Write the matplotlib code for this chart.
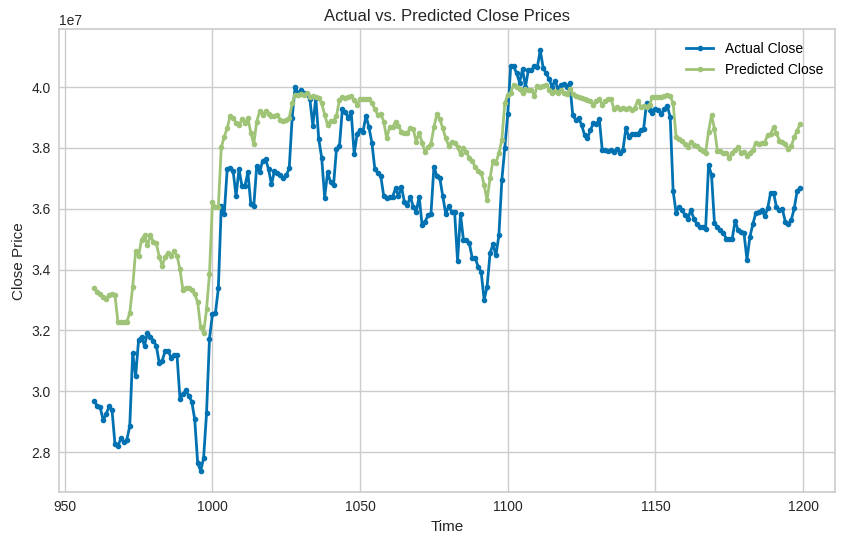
import numpy as np
import matplotlib
matplotlib.use("Agg")
import matplotlib.pyplot as plt

plt.rcParams['font.family'] = ['Liberation Sans', 'DejaVu Sans']

# time index of the test set
time = np.arange(960, 1200)

# actual close prices (in units of 1e7)
actual = [
    2.967, 2.952, 2.947, 2.905, 2.924, 2.950, 2.938, 2.826, 2.820, 2.845,
    2.832, 2.840, 2.885, 3.125, 3.050, 3.169, 3.179, 3.149, 3.193, 3.180,
    3.166, 3.150, 3.092, 3.100, 3.133, 3.133, 3.110, 3.120, 3.120, 2.976,
    2.990, 3.003, 2.985, 2.966, 2.908, 2.765, 2.738, 2.779, 2.927, 3.173,
    3.253, 3.256, 3.338, 3.610, 3.582, 3.730, 3.733, 3.725, 3.642, 3.730,
    3.675, 3.675, 3.720, 3.615, 3.608, 3.741, 3.720, 3.758, 3.763, 3.730,
    3.680, 3.725, 3.718, 3.710, 3.700, 3.710, 3.733, 3.900, 4.002, 3.980,
    3.990, 3.980, 3.976, 3.960, 3.873, 3.965, 3.829, 3.768, 3.637, 3.720,
    3.687, 3.677, 3.796, 3.805, 3.928, 3.917, 3.900, 3.917, 3.780, 3.846,
    3.860, 3.854, 3.906, 3.868, 3.817, 3.730, 3.719, 3.708, 3.642, 3.634,
    3.638, 3.640, 3.667, 3.642, 3.672, 3.623, 3.612, 3.640, 3.607, 3.590,
    3.640, 3.546, 3.557, 3.579, 3.583, 3.738, 3.708, 3.700, 3.642, 3.583,
    3.609, 3.590, 3.590, 3.429, 3.582, 3.497, 3.497, 3.486, 3.437, 3.437,
    3.409, 3.392, 3.301, 3.343, 3.453, 3.484, 3.447, 3.513, 3.695, 3.800,
    3.912, 4.070, 4.068, 4.046, 4.015, 4.059, 4.002, 4.057, 4.055, 4.070,
    4.065, 4.121, 4.063, 4.046, 4.026, 4.002, 4.021, 3.993, 4.008, 4.011,
    4.000, 4.013, 3.909, 3.892, 3.898, 3.876, 3.843, 3.832, 3.859, 3.881,
    3.879, 3.894, 3.793, 3.793, 3.791, 3.793, 3.788, 3.796, 3.785, 3.793,
    3.865, 3.837, 3.846, 3.846, 3.846, 3.859, 3.862, 3.947, 3.925, 3.916,
    3.927, 3.925, 3.912, 3.927, 3.938, 3.903, 3.659, 3.587, 3.607, 3.596,
    3.579, 3.568, 3.596, 3.568, 3.550, 3.539, 3.541, 3.535, 3.744, 3.711,
    3.552, 3.541, 3.530, 3.521, 3.502, 3.502, 3.502, 3.560, 3.530, 3.524,
    3.519, 3.433, 3.508, 3.550, 3.587, 3.590, 3.596, 3.576, 3.601, 3.653,
    3.653, 3.605, 3.596, 3.598, 3.557, 3.550, 3.563, 3.601, 3.659, 3.667,
]

# predicted close prices (in units of 1e7)
predicted = [
    3.341, 3.327, 3.319, 3.310, 3.303, 3.316, 3.321, 3.315, 3.228, 3.228,
    3.228, 3.228, 3.257, 3.343, 3.462, 3.445, 3.499, 3.513, 3.480, 3.513,
    3.491, 3.486, 3.442, 3.413, 3.442, 3.455, 3.445, 3.460, 3.446, 3.401,
    3.334, 3.341, 3.341, 3.332, 3.319, 3.293, 3.211, 3.191, 3.269, 3.385,
    3.623, 3.605, 3.605, 3.802, 3.837, 3.865, 3.905, 3.898, 3.883, 3.876,
    3.894, 3.881, 3.898, 3.850, 3.813, 3.887, 3.920, 3.909, 3.920, 3.912,
    3.905, 3.905, 3.909, 3.892, 3.890, 3.892, 3.898, 3.947, 3.975, 3.975,
    3.978, 3.975, 3.980, 3.969, 3.970, 3.967, 3.964, 3.947, 3.909, 3.876,
    3.890, 3.890, 3.905, 3.958, 3.969, 3.964, 3.969, 3.970, 3.958, 3.942,
    3.960, 3.960, 3.960, 3.960, 3.949, 3.927, 3.909, 3.912, 3.887, 3.832,
    3.868, 3.868, 3.887, 3.872, 3.854, 3.850, 3.850, 3.865, 3.862, 3.821,
    3.850, 3.817, 3.788, 3.804, 3.813, 3.868, 3.912, 3.894, 3.865, 3.832,
    3.807, 3.821, 3.817, 3.804, 3.780, 3.799, 3.788, 3.766, 3.758, 3.736,
    3.725, 3.719, 3.678, 3.629, 3.700, 3.758, 3.752, 3.783, 3.826, 3.947,
    3.975, 3.982, 4.008, 4.002, 3.993, 3.980, 3.993, 3.989, 3.991, 3.971,
    4.004, 4.002, 4.004, 4.008, 3.991, 3.982, 3.986, 3.980, 3.991, 3.982,
    3.978, 3.993, 3.978, 3.971, 3.967, 3.964, 3.960, 3.958, 3.953, 3.942,
    3.953, 3.960, 3.942, 3.953, 3.960, 3.960, 3.927, 3.936, 3.927, 3.931,
    3.927, 3.931, 3.925, 3.931, 3.956, 3.936, 3.938, 3.936, 3.942, 3.969,
    3.969, 3.967, 3.969, 3.971, 3.975, 3.971, 3.947, 3.837, 3.829, 3.824,
    3.813, 3.802, 3.821, 3.810, 3.807, 3.796, 3.791, 3.785, 3.854, 3.909,
    3.862, 3.791, 3.791, 3.785, 3.785, 3.766, 3.785, 3.793, 3.802, 3.785,
    3.788, 3.774, 3.785, 3.793, 3.817, 3.813, 3.817, 3.817, 3.843, 3.846,
    3.868, 3.848, 3.824, 3.821, 3.813, 3.796, 3.807, 3.835, 3.857, 3.879,
]

actual = np.array(actual) * 1e7
predicted = np.array(predicted) * 1e7

fig = plt.figure(figsize=(8.43, 5.43), dpi=100)
ax = fig.add_axes([0.070, 0.094, 0.921, 0.852])

ax.plot(time, actual, marker='.', markersize=6, linewidth=2,
        color='#0072b2', label='Actual Close')
ax.plot(time, predicted, marker='.', markersize=6, linewidth=2,
        color='#9fc377', label='Predicted Close')

ax.set_title('Actual vs. Predicted Close Prices', fontsize=12, color='#262626')
ax.set_xlabel('Time', fontsize=11, color='#262626')
ax.set_ylabel('Close Price', fontsize=11, color='#262626')

ax.grid(True, color='#cccccc', linewidth=1)
ax.set_axisbelow(True)
for sp in ax.spines.values():
    sp.set_color('#cccccc')
    sp.set_linewidth(1.2)
ax.tick_params(length=0, labelsize=10, colors='#262626', pad=6)
ax.yaxis.get_offset_text().set_fontsize(10)

ax.legend(frameon=False, loc='upper right', fontsize=10)

fig.savefig('out.png', dpi=100)
